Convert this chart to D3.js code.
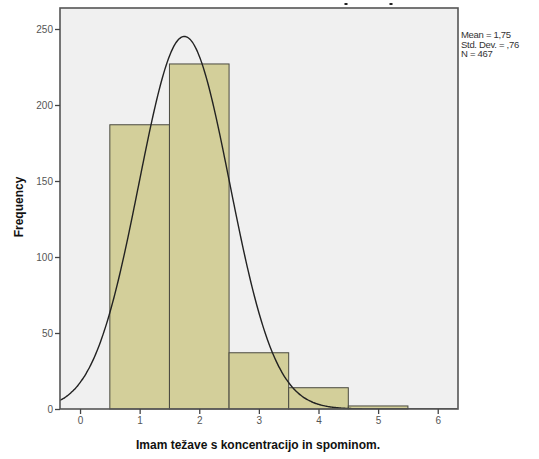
<!DOCTYPE html>
<html><head><meta charset="utf-8">
<script src="https://cdn.jsdelivr.net/npm/d3@7"></script>
<style>body{margin:0;background:#fff;} text{font-family:Arial,"Liberation Sans",sans-serif;}</style>
</head><body>
<svg id="c" width="539" height="459"></svg>
<script>
const binCenters = [1, 2, 3, 4, 5];
const frequencies = [187, 227, 37, 14, 2];
const xTicks = [0, 1, 2, 3, 4, 5, 6];
const yTicks = [0, 50, 100, 150, 200, 250];
const meanVal = 1.75, sdVal = 0.76, nVal = 467;
const statsLines = ["Mean = 1,75", "Std. Dev. = ,76", "N = 467"];

const svg = d3.select("#c");
const L = 60, T = 8, R = 458, B = 409;
const x = d3.scaleLinear().domain([-0.336, 6.34]).range([L, R]);
const y = d3.scaleLinear().domain([0, 250]).range([B, 29]);

svg.append("rect").attr("x", L).attr("y", T).attr("width", R - L).attr("height", B - T)
  .attr("fill", "#f0f0f0");

svg.append("defs").append("clipPath").attr("id", "clip")
  .append("rect").attr("x", L).attr("y", T).attr("width", R - L).attr("height", B - T);

svg.selectAll("rect.bar").data(binCenters).enter().append("rect").attr("class", "bar")
  .attr("x", d => x(d - 0.5)).attr("width", d => x(d + 0.5) - x(d - 0.5))
  .attr("y", (d, i) => y(frequencies[i])).attr("height", (d, i) => y(0) - y(frequencies[i]))
  .attr("fill", "#d3cf9a").attr("stroke", "#4a4a40").attr("stroke-width", 1);

// fitted normal curve from displayed mean / sd / N (bin width 1)
const xs = d3.range(-0.336, 6.34, 0.02);
const dens = v => nVal * Math.exp(-0.5 * Math.pow((v - meanVal) / sdVal, 2)) / (sdVal * Math.sqrt(2 * Math.PI));
svg.append("path").datum(xs).attr("clip-path", "url(#clip)")
  .attr("d", d3.line().x(d => x(d)).y(d => y(dens(d))).curve(d3.curveBasis))
  .attr("fill", "none").attr("stroke", "#222").attr("stroke-width", 1.4);

svg.append("rect").attr("x", L).attr("y", T).attr("width", R - L).attr("height", B - T)
  .attr("fill", "none").attr("stroke", "#555").attr("stroke-width", 1.6);

const ya = svg.append("g").attr("transform", `translate(${L},0)`)
  .call(d3.axisLeft(y).tickValues(yTicks).tickSize(5).tickPadding(2).tickFormat(d3.format("d")));
ya.select(".domain").remove();
ya.selectAll("line").attr("stroke", "#444").attr("stroke-width", 1.3);
ya.selectAll("text").attr("fill", "#555").attr("font-size", 10);

const xa = svg.append("g").attr("transform", `translate(0,${B})`)
  .call(d3.axisBottom(x).tickValues(xTicks).tickSize(5).tickPadding(3).tickFormat(d3.format("d")));
xa.select(".domain").remove();
xa.selectAll("line").attr("stroke", "#444").attr("stroke-width", 1.3);
xa.selectAll("text").attr("fill", "#555").attr("font-size", 10);

svg.append("text").attr("transform", "translate(23,207) rotate(-90)")
  .attr("text-anchor", "middle").attr("font-weight", "bold").attr("font-size", 12)
  .attr("fill", "#111").text("Frequency");

svg.append("text").attr("x", 258).attr("y", 449).attr("text-anchor", "middle")
  .attr("font-weight", "bold").attr("font-size", 12).attr("fill", "#111")
  .text("Imam težave s koncentracijo in spominom.");

svg.selectAll("text.stat").data(statsLines).enter().append("text").attr("class", "stat")
  .attr("x", 461).attr("y", (d, i) => 38 + i * 9.5).attr("font-size", 9.5)
  .attr("fill", "#333").attr("letter-spacing", -0.3).text(d => d);

// cropped title remnants at top
[346, 391].forEach(px => svg.append("rect").attr("x", px - 1.5).attr("y", 3).attr("width", 3).attr("height", 2).attr("fill", "#222"));
</script>
</body></html>
